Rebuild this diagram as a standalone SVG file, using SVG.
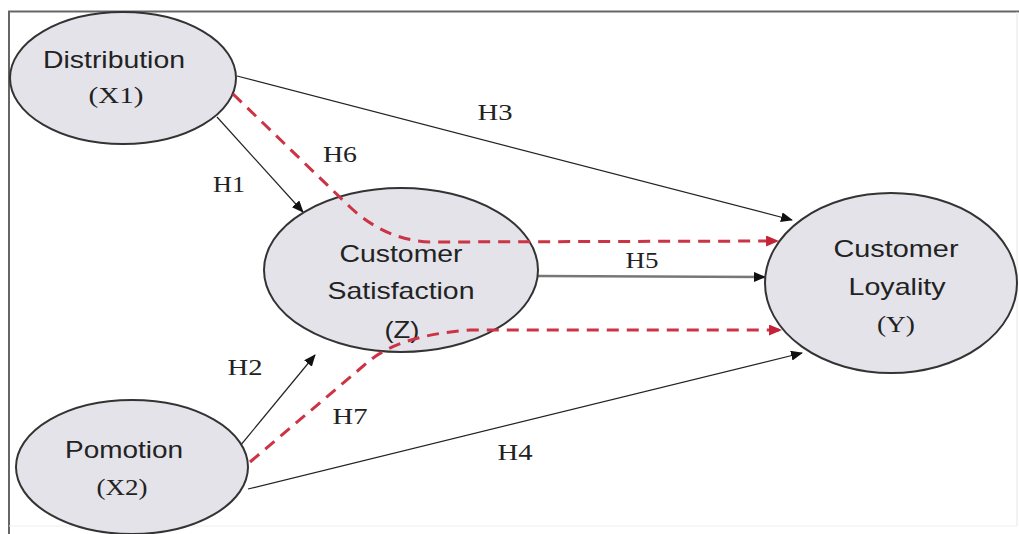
<svg xmlns="http://www.w3.org/2000/svg" width="1019" height="534" viewBox="0 0 1019 534">
  <style>
    .node { fill: #e3e3e9; stroke: #333; stroke-width: 2; }
    .name { font-family: "Liberation Sans", Arial, sans-serif; font-size: 24px; fill: #222; text-anchor: middle; }
    .code { font-family: "Liberation Serif", "Times New Roman", serif; font-size: 24px; fill: #222; text-anchor: middle; }
    .lbl { font-family: "Liberation Serif", "Times New Roman", serif; font-size: 24px; fill: #222; text-anchor: middle; }
    .solid { fill: none; stroke: #222; stroke-width: 1.2; marker-end: url(#arrowBlack); }
    .main { fill: none; stroke: #777; stroke-width: 2.5; marker-end: url(#arrowBlack); }
    .dash { fill: none; stroke: #cc3344; stroke-width: 3; stroke-dasharray: 12 8; marker-end: url(#arrowRed); }
  </style>
  <defs>
    <marker id="arrowBlack" viewBox="0 0 12 10" refX="11" refY="5" markerWidth="12" markerHeight="10" markerUnits="userSpaceOnUse" orient="auto">
      <path d="M0,0 L12,5 L0,10 Z" fill="#111"/>
    </marker>
    <marker id="arrowRed" viewBox="0 0 12 10" refX="11" refY="5" markerWidth="13" markerHeight="11" markerUnits="userSpaceOnUse" orient="auto">
      <path d="M0,0 L12,5 L0,10 Z" fill="#c42236"/>
    </marker>
  </defs>

  <rect width="1019" height="534" fill="#ffffff"/>
  <!-- frame -->
  <line x1="8" y1="11.5" x2="1019" y2="11.5" stroke="#666" stroke-width="2"/>
  <line x1="9" y1="11" x2="9" y2="534" stroke="#666" stroke-width="2"/>
  <line x1="1017" y1="12" x2="1017" y2="526" stroke="#e6e6e6" stroke-width="1"/>
  <line x1="9" y1="526" x2="1017" y2="526" stroke="#eeeeee" stroke-width="1"/>

  <!-- solid paths and labels -->
  <g id="connectors">
    <path class="solid" d="M237,76 L792,220"/>
    <path class="solid" d="M217,117 L303,212"/>
    <path class="main" d="M538,276 L765,277"/>
    <path class="solid" d="M240,446 L315,355"/>
    <path class="solid" d="M248,489 L802,353"/>
    <text class="lbl" x="229" y="192" textLength="32" lengthAdjust="spacingAndGlyphs">H1</text>
    <text class="lbl" x="340" y="162" textLength="34" lengthAdjust="spacingAndGlyphs">H6</text>
    <text class="lbl" x="495" y="120" textLength="35" lengthAdjust="spacingAndGlyphs">H3</text>
    <text class="lbl" x="642" y="268" textLength="33" lengthAdjust="spacingAndGlyphs">H5</text>
    <text class="lbl" x="245" y="375" textLength="35" lengthAdjust="spacingAndGlyphs">H2</text>
    <text class="lbl" x="350" y="424" textLength="35" lengthAdjust="spacingAndGlyphs">H7</text>
    <text class="lbl" x="515" y="460" textLength="35" lengthAdjust="spacingAndGlyphs">H4</text>
  </g>

  <g id="distribution">
    <ellipse class="node" cx="123" cy="78" rx="113" ry="66"/>
    <text class="name" x="114" y="68" textLength="142" lengthAdjust="spacingAndGlyphs">Distribution</text>
    <text class="code" x="116" y="103" textLength="55" lengthAdjust="spacingAndGlyphs">(X1)</text>
  </g>

  <g id="satisfaction">
    <ellipse class="node" cx="401" cy="270" rx="137" ry="82"/>
    <text class="name" x="401" y="262" textLength="123" lengthAdjust="spacingAndGlyphs">Customer</text>
    <text class="name" x="401" y="299" textLength="147" lengthAdjust="spacingAndGlyphs">Satisfaction</text>
    <text class="name" x="402" y="338" textLength="35" lengthAdjust="spacingAndGlyphs">(Z)</text>
  </g>

  <g id="loyality">
    <ellipse class="node" cx="891" cy="283" rx="126" ry="90"/>
    <text class="name" x="896" y="257" textLength="125" lengthAdjust="spacingAndGlyphs">Customer</text>
    <text class="name" x="897" y="295" textLength="97" lengthAdjust="spacingAndGlyphs">Loyality</text>
    <text class="code" x="896" y="332" textLength="38" lengthAdjust="spacingAndGlyphs">(Y)</text>
  </g>

  <g id="promotion">
    <ellipse class="node" cx="132" cy="467" rx="116" ry="67"/>
    <text class="name" x="124" y="458" textLength="118" lengthAdjust="spacingAndGlyphs">Pomotion</text>
    <text class="code" x="122" y="495" textLength="51" lengthAdjust="spacingAndGlyphs">(X2)</text>
  </g>

  <!-- mediated paths drawn over the nodes -->
  <g id="mediated-connectors">
    <path class="dash" d="M233,94 L350,207 Q385,240 430,242 L778,241"/>
    <path class="dash" d="M250,462 L368,362 Q400,335 470,330 L781,330"/>
  </g>
</svg>
